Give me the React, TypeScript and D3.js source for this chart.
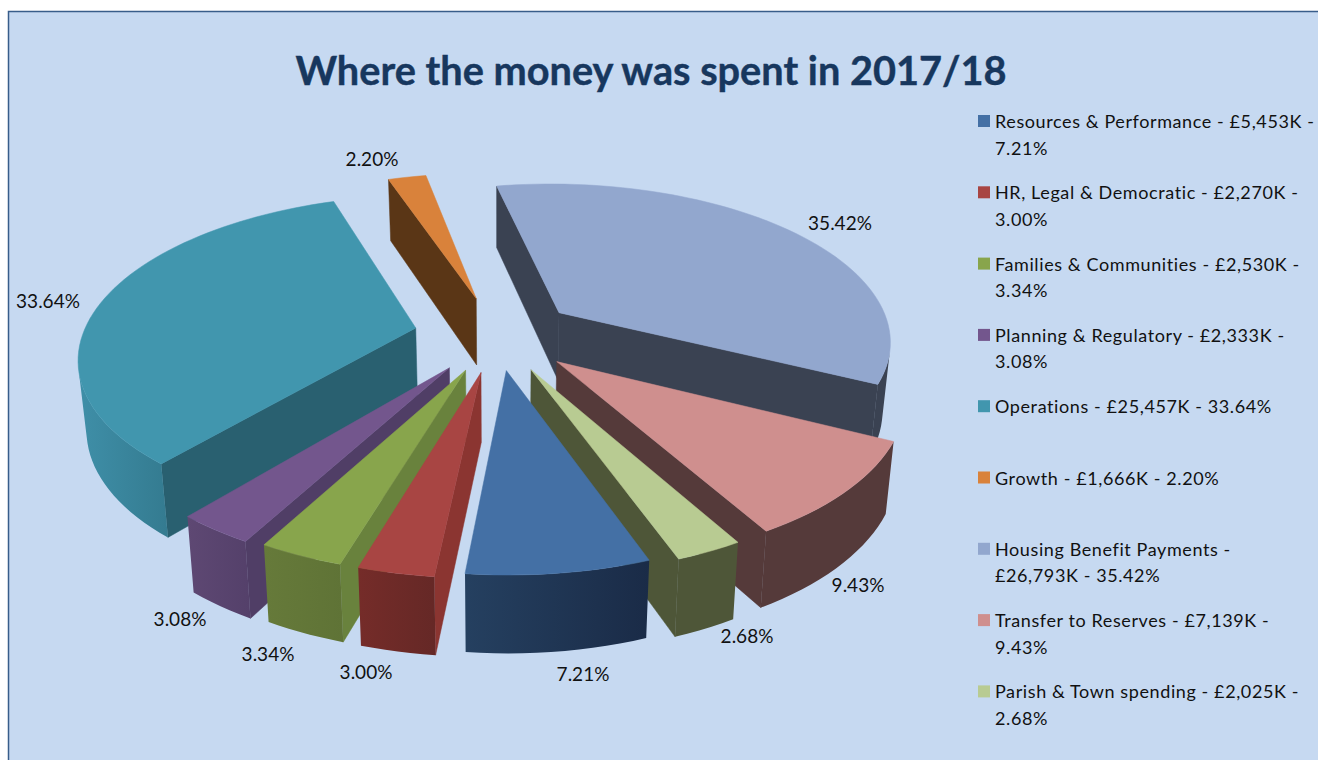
import React from 'react';
import * as d3 from 'd3';

// chart values
const categories = ['Resources & Performance', 'HR, Legal & Democratic', 'Families & Communities', 'Planning & Regulatory', 'Operations', 'Growth', 'Housing Benefit Payments', 'Transfer to Reserves', 'Parish & Town spending'];
const spend = [5453, 2270, 2530, 2333, 25457, 1666, 26793, 7139, 2025];
const percentLabels = ['7.21%', '3.00%', '3.34%', '3.08%', '33.64%', '2.20%', '35.42%', '9.43%', '2.68%'];
const legendLines = [
  ['Resources & Performance - £5,453K -', '7.21%'],
  ['HR, Legal & Democratic - £2,270K -', '3.00%'],
  ['Families & Communities - £2,530K -', '3.34%'],
  ['Planning & Regulatory - £2,333K -', '3.08%'],
  ['Operations - £25,457K - 33.64%'],
  ['Growth - £1,666K - 2.20%'],
  ['Housing Benefit Payments -', '£26,793K - 35.42%'],
  ['Transfer to Reserves - £7,139K -', '9.43%'],
  ['Parish & Town spending - £2,025K -', '2.68%'],
];

// styling
const topColors = ['#4470A5', '#A84543', '#88A54C', '#73568D', '#4196AE', '#D9823B', '#92A7CE', '#CF8F8E', '#B8CB92'];
const cutColors = ['#22405F', '#8B3531', '#69823D', '#503E66', '#296070', '#5A3616', '#3A4252', '#553A3A', '#4E5638'];
const wallLeft = ['#254060', '#752C29', '#667A3A', '#5E4873', '#3F8FA8', '#5A3616', '#3A4252', '#553A3A', '#4E5638'];
const wallRight = ['#1A2B47', '#652826', '#5F7336', '#54406A', '#347B90', '#5A3616', '#3A4252', '#553A3A', '#4E5638'];
const explode = [0.22, 0.235, 0.235, 0.245, 0.25, 0.25, 0.24, 0.24, 0.235];
const labelPos = [[583, 675], [366, 673], [268, 655], [180, 620], [48, 302], [372, 160], [840, 224], [858, 586], [747, 637]];

const W = 1318;
const H = 760;
const FONT = 'Lato, sans-serif';

// simple perspective for the tilted pie
const cx = 497;
const cy = 335;
const radiusX = 333;
const radiusY = 157;
const camera = 6;
const depth = 68;
const bottomShrink = 0.98;

function project(x: number, z: number, bottom = false): [number, number] {
  const s = camera / (camera - z);
  return [
    cx + x * radiusX * s * (bottom ? bottomShrink : 1),
    cy + z * radiusY * s + (bottom ? depth * (1 + (s - 1) * 0.6) : 0),
  ];
}

const startAngle = (160 * Math.PI) / 180;
const pieGen = d3.pie<number>().sort(null).startAngle(startAngle).endAngle(startAngle + Math.PI * 2);
const arcs = pieGen(spend);
const lineGen = d3.line();

function buildSlice(i: number) {
  const a = arcs[i];
  const mid = (a.startAngle + a.endAngle) / 2;
  const ox = Math.sin(mid) * explode[i];
  const oz = -Math.cos(mid) * explode[i];
  const n = Math.max(3, Math.ceil(((a.endAngle - a.startAngle) * 180) / Math.PI / 2));
  const angles = d3.range(n + 1).map(k => a.startAngle + ((a.endAngle - a.startAngle) * k) / n);
  const rimTop = angles.map(t => project(ox + Math.sin(t), oz - Math.cos(t)));
  const rimBottom = angles.map(t => project(ox + Math.sin(t), oz - Math.cos(t), true));
  const apexTop = project(ox, oz);
  const apexBottom = project(ox, oz, true);

  const faces: [number, number][][] = [];
  const startFace: [number, number][] = [apexTop, rimTop[0], rimBottom[0], apexBottom];
  const endFace: [number, number][] = [apexTop, apexBottom, rimBottom[n], rimTop[n]];
  if (d3.polygonArea(startFace) > 0) faces.push(startFace);
  if (d3.polygonArea(endFace) > 0) faces.push(endFace);

  // outer wall: only the run of segments that faces the viewer
  const visible = d3.range(n).filter(k => d3.polygonArea([rimTop[k], rimBottom[k], rimBottom[k + 1], rimTop[k + 1]]) < 0);
  let wall: [number, number][] | null = null;
  if (visible.length) {
    const first = visible[0];
    const last = visible[visible.length - 1] + 1;
    wall = [...rimTop.slice(first, last + 1), ...rimBottom.slice(first, last + 1).reverse()];
  }
  const xs = wall ? wall.map(p => p[0]) : [0, 1];
  return {
    i,
    faces,
    wall,
    x0: d3.min(xs) as number,
    x1: d3.max(xs) as number,
    top: [apexTop, ...rimTop] as [number, number][],
    order: -Math.cos(mid),
  };
}

const slices = d3.range(spend.length).map(buildSlice).sort((p, q) => d3.ascending(p.order, q.order));

export default function App() {
  return (
    <svg width={W} height={H} viewBox={`0 0 ${W} ${H}`} style={{ position: 'fixed', left: 0, top: 0 }} fontFamily={FONT}>
      <defs>
        {slices.map(s => (
          <linearGradient key={s.i} id={`wall${s.i}`} gradientUnits="userSpaceOnUse" x1={s.x0} x2={s.x1} y1={0} y2={0}>
            <stop offset="0" stopColor={wallLeft[s.i]} />
            <stop offset="1" stopColor={wallRight[s.i]} />
          </linearGradient>
        ))}
      </defs>
      <rect x={0} y={0} width={W} height={H} fill="#ffffff" />
      <rect x={8.5} y={11.5} width={W + 20} height={H + 20} fill="#C6D9F1" stroke="#385D8A" strokeWidth={1.5} />
      <text x={651} y={85} textAnchor="middle" fontSize={39.7} fontWeight={700} stroke="#17375E" strokeWidth={0.4} fill="#17375E">Where the money was spent in 2017/18</text>

      {slices.map(s => (
        <g key={categories[s.i]}>
          {s.faces.map((p, k) => (
            <path key={k} d={lineGen(p) + 'Z'} fill={cutColors[s.i]} stroke={cutColors[s.i]} strokeWidth={0.5} strokeLinejoin="round" />
          ))}
          {s.wall && <path d={lineGen(s.wall) + 'Z'} fill={`url(#wall${s.i})`} />}
          <path d={lineGen(s.top) + 'Z'} fill={topColors[s.i]} stroke={topColors[s.i]} strokeWidth={0.5} strokeLinejoin="round" />
        </g>
      ))}

      {percentLabels.map((t, i) => (
        <text key={t} x={labelPos[i][0]} y={labelPos[i][1] + 6} textAnchor="middle" fontSize={19} fill="#111">{t}</text>
      ))}

      {legendLines.map((lines, i) => (
        <g key={categories[i]} transform={`translate(978,${121 + i * 71.3})`}>
          <rect x={0} y={-6} width={12} height={12} fill={topColors[i]} />
          {lines.map((l, k) => (
            <text key={k} x={17} y={7 + k * 26.5} fontSize={18} letterSpacing={0.6} fill="#111">{l}</text>
          ))}
        </g>
      ))}
    </svg>
  );
}
